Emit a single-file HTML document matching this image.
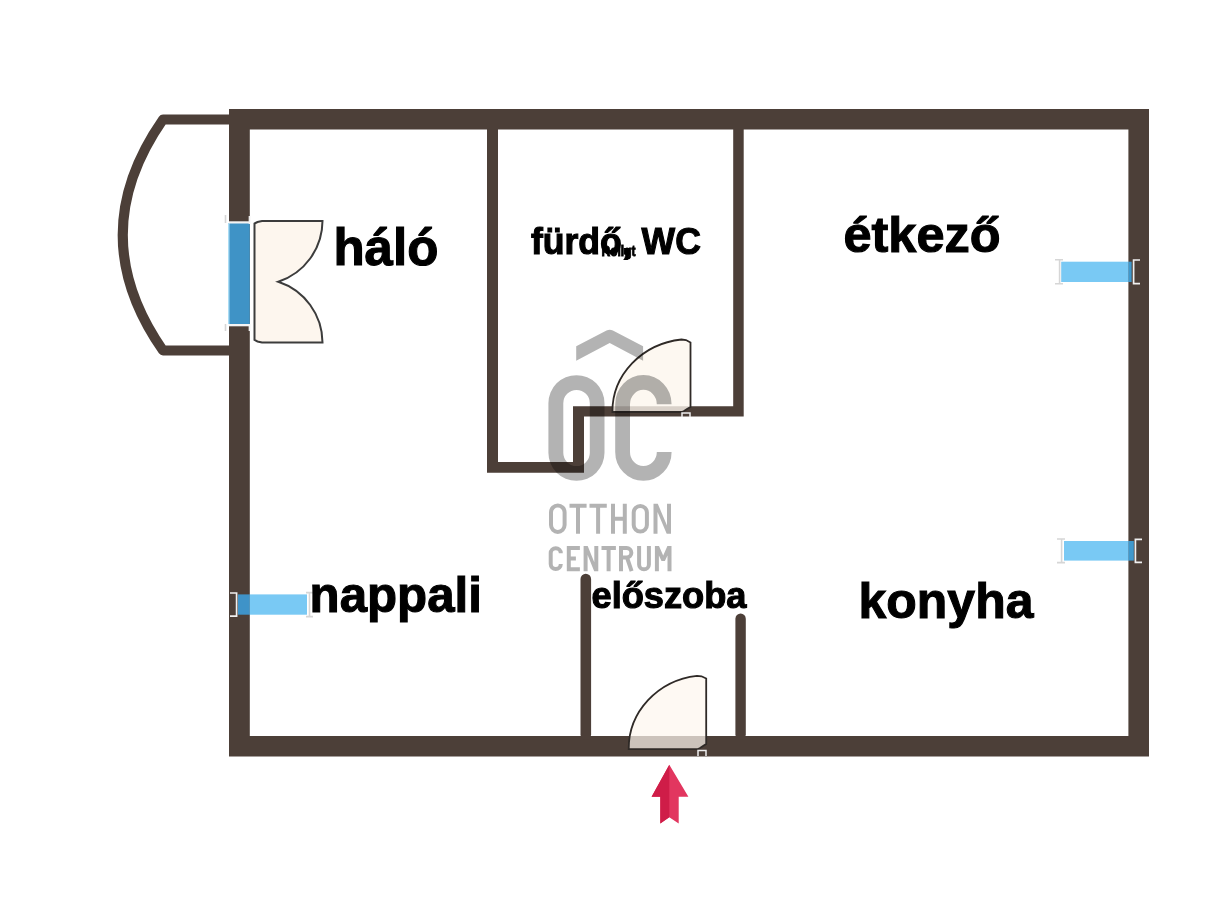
<!DOCTYPE html>
<html><head><meta charset="utf-8"><style>
html,body{margin:0;padding:0;background:#fff;width:1220px;height:900px;overflow:hidden}
svg{display:block;will-change:transform}
.lbl{font-family:"Liberation Sans",sans-serif;font-weight:bold;fill:#000;stroke:#000;stroke-width:1.1px}
</style></head><body>
<svg width="1220" height="900" viewBox="0 0 1220 900">
<rect width="1220" height="900" fill="#fff"/>
<!-- balcony -->
<path d="M229 119.5 H163 Q82.5 235 163 350.5 H229" fill="none" stroke="#4c3f38" stroke-width="10" stroke-linejoin="round"/>
<!-- outer walls -->
<path fill="#4c3f38" fill-rule="evenodd" d="M229 109 H1149 V756.6 H229 Z M249.8 129.6 V736 H1128.4 V129.6 Z"/>
<!-- bathroom walls -->
<path fill="#4c3f38" d="M487 129 H498 V462 H573 V406.2 H733.2 V129 H743.7 V416.6 H584 V472.8 H487 Z"/>
<!-- posts -->
<line x1="585.8" y1="579" x2="585.8" y2="734.5" stroke="#4c3f38" stroke-width="10.6" stroke-linecap="round"/>
<line x1="740.6" y1="618.8" x2="740.6" y2="734.5" stroke="#4c3f38" stroke-width="10.4" stroke-linecap="round"/>

<!-- windows -->
<rect x="228.5" y="223" width="21.3" height="101" fill="#3f93c6"/>
<rect x="228" y="223" width="1.5" height="101" fill="#a9dcf4"/>
<rect x="1061.2" y="261.7" width="67.2" height="20.3" fill="#79c9f4"/>
<rect x="1128.4" y="261.7" width="3.2" height="20.3" fill="#3f98cc"/>
<rect x="1064" y="541" width="64.4" height="19.6" fill="#79c9f4"/>
<rect x="1128.4" y="541" width="5.4" height="19.6" fill="#3f98cc"/>
<rect x="238" y="594.4" width="11.8" height="20.3" fill="#3f93c8"/>
<rect x="249.8" y="594.4" width="57.2" height="20.3" fill="#79c9f4"/>

<!-- doors -->
<path d="M254.5 223.5 L257.5 222 L262 221 H322.5 A64.3 64.3 0 0 1 278.3 281.7 A64.3 64.3 0 0 1 322.5 342.5 H262 L257.5 341.5 L254.5 340 Z" fill="#fdf6ee" stroke="#3c3c3c" stroke-width="2"/>
<path d="M690.5 342.5 V407 L687 409 L684 411 L682 412 H612.4 A78 72.5 0 0 1 681.5 339.5 L686 340 L690.5 342.5 Z" fill="#fdf6ee" fill-opacity="0.8" stroke="#2f2a27" stroke-width="1.8"/>
<path d="M706.2 678.5 V744 L703 746 L700 748 L697.5 749.2 H628.7 A77.5 73.4 0 0 1 697 675.8 L701.5 676.3 L706.2 678.5 Z" fill="#fdf6ee" fill-opacity="0.72" stroke="#2f2a27" stroke-width="1.8"/>

<!-- markers -->
<g fill="none" stroke="#d6d6d6" stroke-width="1.6">
<path d="M225.5 215 V223 M225.5 324 V331"/>
<path d="M1055 259.8 H1063 M1059.6 259.8 V283.8 M1055 283.8 H1063"/>
<path d="M1057 539 H1065 M1061.6 539 V562.6 M1057 562.6 H1065"/>
<path d="M306 592.6 H313 M309.5 592.6 V616.6 M306 616.6 H313"/>
</g>
<g fill="none" stroke="#f0f0f0" stroke-width="1.7">
<path d="M1140 260 H1133.6 V283.6 H1140"/>
<path d="M1142 539.3 H1135.4 V562.4 H1142"/>
<path d="M230 593 H236.6 V616.2 H230"/>
<path d="M249.5 216 V224 M249.5 324 V331"/>
</g>
<rect x="229" y="221.3" width="21" height="2.2" fill="#f4f4f4"/>
<rect x="229" y="324" width="21" height="2.3" fill="#f4f4f4"/>
<path d="M698 756 V750.5 H706 V756" fill="none" stroke="#eee" stroke-width="1.5"/>
<path d="M682 417 V413 H690 V417" fill="none" stroke="#eee" stroke-width="1.5"/>
<!-- labels -->
<text class="lbl" transform="translate(333.4 264.9)" font-size="51.1">háló</text>
<text class="lbl" transform="translate(530.9 254) scale(0.981 1)" font-size="36.3">fürdő, WC</text>
<text class="lbl" transform="translate(601.5 255.7) scale(0.8 1)" font-size="15" style="stroke-width:0.9px">Rollgt</text>
<text class="lbl" transform="translate(843.5 251.6) scale(1.017 1)" font-size="49.6">étkező</text>
<text class="lbl" transform="translate(309.6 612.4) scale(0.973 1)" font-size="50.6">nappali</text>
<text class="lbl" transform="translate(591.5 607.6) scale(0.99 1)" font-size="36.6">előszoba</text>
<text class="lbl" transform="translate(858.6 617.5) scale(0.985 1)" font-size="50.7">konyha</text>

<!-- watermark -->
<g opacity="0.295">
<path fill="#000" d="M576.2 346.3 L606.5 330.5 Q609.7 328.9 612.9 330.5 L643.1 346.3 V360.7 L609.7 343 L576.2 360.7 Z"/>
<path fill="#000" fill-rule="evenodd" d="M548.4 403.2 A28.05 28.05 0 0 1 604.5 403.2 V452.8 A28.05 28.05 0 0 1 548.4 452.8 Z M563.3 403.2 V452.8 A13.25 13.25 0 0 0 589.8 452.8 V403.2 A13.25 13.25 0 0 0 563.3 403.2 Z"/>
<path fill="none" stroke="#000" stroke-width="14.8" d="M664.2 404.2 A20.8 21.8 0 0 0 622.6 404.2 V451.9 A20.8 21.5 0 0 0 664.2 451.9"/>
<g fill="none" stroke="#000" stroke-width="4" stroke-linejoin="miter">
<path d="M551 512.3 A6.8 6.8 0 0 1 564.6 512.3 V525.1 A6.8 6.8 0 0 1 551 525.1 Z"/>
<path d="M569.5 505.8 H586.6 M578 505.8 V533.8 M589.5 505.8 H606.8 M598.1 505.8 V533.8"/>
<path d="M613 503.8 V533.8 M624.8 503.8 V533.8 M613 518.7 H624.8"/>
<path d="M633.7 512.5 A6.6 6.6 0 0 1 646.9 512.5 V525 A6.6 6.6 0 0 1 633.7 525 Z"/>
<path d="M560.8 553.3 A5.05 5.05 0 0 0 550.7 553.3 V564 A5.05 5.05 0 0 0 560.8 564"/>
<path d="M579.9 548 H568.8 V569.2 H579.9 M568.8 558.6 H575.9"/>
<path d="M601.5 548 H615.9 M608.6 548 V571.2"/>
<path d="M621 571.2 V548 H626.6 A4.75 4.75 0 0 1 626.6 557.5 H621 M627 557.5 L631.6 571.2"/>
<path d="M639.1 546 V564.4 A4.9 4.9 0 0 0 648.9 564.4 V546"/>
</g>
<path fill="#000" d="M653.5 533.8 V503.8 H657.8 L667 525.5 V503.8 H671 V533.8 H666.7 L657.5 512.1 V533.8 Z"/>
<path fill="#000" d="M583.6 571.2 V546 H587.7 L594.3 562.2 V546 H598.3 V571.2 H594.2 L587.6 555 V571.2 Z"/>
<path fill="#000" d="M654.9 571.2 V546 H659 L663.2 555.5 L667.4 546 H671.5 V571.2 H667.5 V555.5 L664.9 561 H661.5 L658.9 555.5 V571.2 Z"/>
</g>

<!-- arrow -->
<path d="M669.3 764.8 L688.4 796.8 H678.7 V823.4 L669.3 817.2 L660.3 823.4 V796.8 H651.6 Z" fill="#e2365f"/>
<path d="M669.3 764.8 L651.6 796.8 H660.3 V823.4 L669.3 817.2 Z" fill="#cf1d48"/>
</svg>
</body></html>
